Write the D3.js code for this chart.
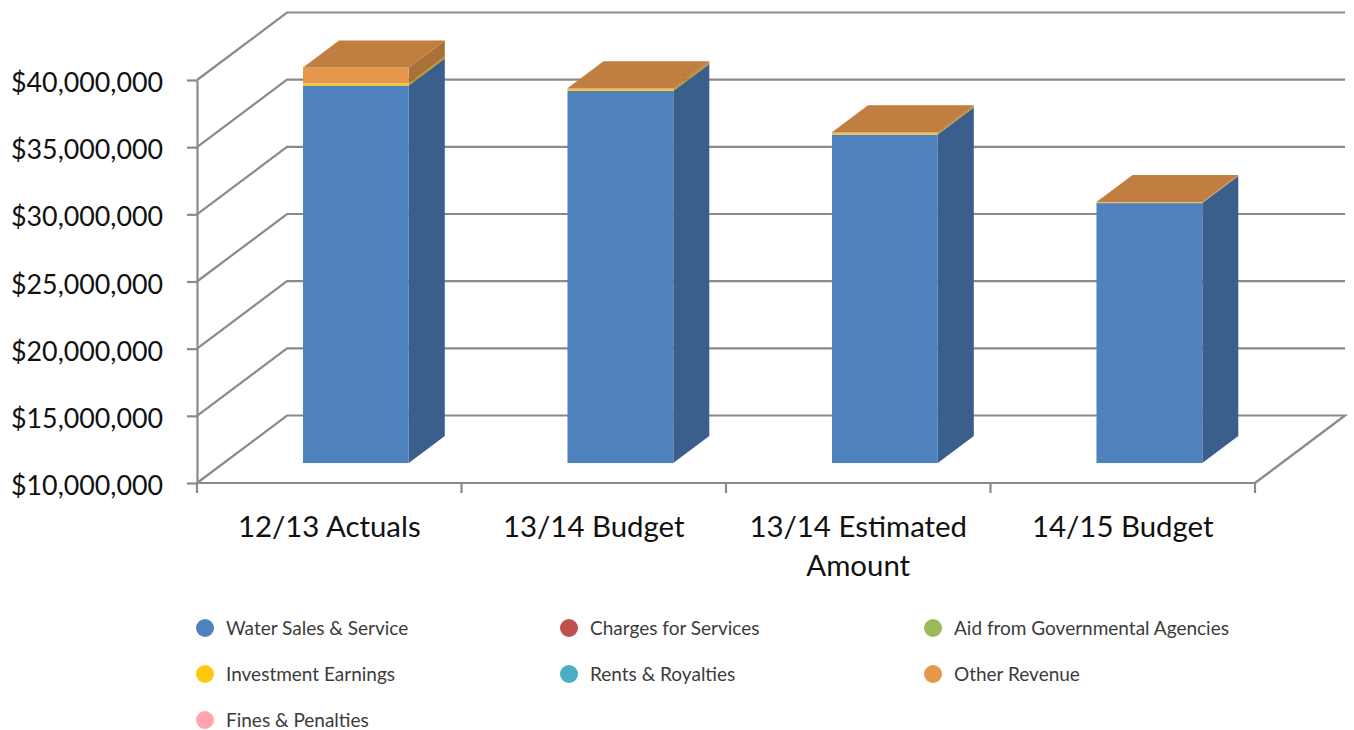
<!DOCTYPE html>
<html>
<head>
<meta charset="utf-8">
<script src="https://cdn.jsdelivr.net/npm/d3@7"></script>
<style>
	body {
		padding: 0;
		margin: 0;
		background: #FFF;
	}
	svg {
		display: block;
	}
	.grid line, .grid path {
		stroke: #8A8A8A;
		stroke-width: 2.2;
		fill: none;
	}
	.tickLabel {
		font-family: Lato, "Open Sans", sans-serif;
		font-size: 26.8px;
		fill: #111;
	}
	.xLabel {
		font-family: Lato, "Open Sans", sans-serif;
		font-size: 29.4px;
		fill: #111;
	}
	.legendLabel {
		font-family: Lato, "Open Sans", sans-serif;
		font-size: 19px;
		fill: #3C3C3C;
	}
</style>
</head>
<body>
<div id="content"></div>
<script>
// Values
var categories = ['12/13 Actuals', '13/14 Budget', '13/14 Estimated Amount', '14/15 Budget'];
var seriesNames = ['Water Sales & Service', 'Charges for Services', 'Aid from Governmental Agencies',
	'Investment Earnings', 'Rents & Royalties', 'Other Revenue', 'Fines & Penalties'];
var water = [38100000, 37700000, 34450000, 29350000];
var charges = [0, 0, 0, 0];
var aid = [0, 0, 0, 0];
var investment = [150000, 100000, 80000, 40000];
var rents = [0, 0, 0, 0];
var other = [1200000, 90000, 90000, 40000];
var fines = [0, 0, 0, 0];
var yTicks = [10000000, 15000000, 20000000, 25000000, 30000000, 35000000, 40000000];
var colors = ['#4F81BD', '#C0504D', '#9BBB59', '#FFC90E', '#4BACC6', '#E5984B', '#FFA6B0'];

var w = 1354;
var h = 730;

// Oblique projection of the chart box
var depthX = 90;
var depthY = -67.5;
var barWidth = 0.4;
var barDepthStart = 0.296;
var barDepthEnd = 0.696;

var svg = d3.select('#content')
	.append('svg')
	.attr('width', w)
	.attr('height', h);

var defs = svg.append('defs');
defs.append('filter')
	.attr('id', 'soft')
	.append('feGaussianBlur')
	.attr('stdDeviation', 0.7);

var x = d3.scaleBand().domain(categories).range([197, 1255]);
var y = d3.scaleLinear().domain([10000000, 40000000]).range([483, 80]);

function px(v, d) { return v + d * depthX; }
function py(v, d) { return y(v) + d * depthY; }

var grid = svg.append('g').attr('class', 'grid');

// Back wall lines and the diagonals on the side wall
grid.selectAll('.back')
	.data(yTicks.slice(1))
	.enter().append('path')
	.attr('d', function(d) {
		return d3.line()([
			[px(x.range()[0], 0), py(d, 0)],
			[px(x.range()[0], 1), py(d, 1)],
			[px(x.range()[1], 1), py(d, 1)]
		]);
	});

// Floor
grid.append('path')
	.attr('d', d3.line()([
		[px(x.range()[0], 0), py(yTicks[0], 0)],
		[px(x.range()[0], 1), py(yTicks[0], 1)],
		[px(x.range()[1], 1), py(yTicks[0], 1)],
		[px(x.range()[1], 0), py(yTicks[0], 0)]
	]));

// Y axis
var yAxis = svg.append('g')
	.attr('class', 'grid')
	.attr('transform', 'translate(197,0)')
	.call(d3.axisLeft(y).tickValues(yTicks).tickSize(10).tickSizeOuter(0).tickFormat(d3.format('$,')));
yAxis.selectAll('text')
	.attr('class', 'tickLabel')
	.attr('x', -186)
	.attr('y', 3)
	.attr('dy', '0.32em')
	.style('text-anchor', 'start');
yAxis.attr('font-size', null).attr('font-family', null);

// X axis, ticks sit on the category edges
var xEdges = categories.map(function(c) { return x(c); }).concat([x.range()[1]]);
grid.append('line')
	.attr('x1', x.range()[0])
	.attr('x2', x.range()[1])
	.attr('y1', y(yTicks[0]))
	.attr('y2', y(yTicks[0]));
grid.selectAll('.xTick')
	.data(xEdges)
	.enter().append('line')
	.attr('x1', function(d) { return d; })
	.attr('x2', function(d) { return d; })
	.attr('y1', y(yTicks[0]))
	.attr('y2', y(yTicks[0]) + 10);

var xLabels = svg.selectAll('.xLabel')
	.data(categories)
	.enter().append('text')
	.attr('class', 'xLabel')
	.attr('text-anchor', 'middle')
	.attr('y', 537);
xLabels.each(function(c) {
	// wrap long category names after the second word
	var words = c.split(' ');
	var lines = words.length > 2 ? [words.slice(0, 2).join(' '), words.slice(2).join(' ')] : [c];
	d3.select(this).selectAll('tspan')
		.data(lines)
		.enter().append('tspan')
		.attr('x', x(c) + x.bandwidth() / 2)
		.attr('dy', function(d, i) { return i ? 39 : 0; })
		.text(function(d) { return d; });
});

// Stacked 3D bars
var valueSeries = [water, charges, aid, investment, rents, other, fines];
var bars = svg.append('g').attr('filter', 'url(#soft)');

categories.forEach(function(c, i) {
	var band = x.bandwidth();
	var left = x(c) + band * (1 - barWidth) / 2;
	var right = left + band * barWidth;
	var base = yTicks[0];
	valueSeries.forEach(function(vals, s) {
		if (vals[i] <= 0) return;
		var bottom = base;
		// the first series starts on the axis minimum, the rest stack on it
		var top = (s === 0) ? vals[i] : base + vals[i];
		base = top;
		var col = d3.color(colors[s]);

		// side face
		bars.append('path')
			.attr('d', d3.line()([
				[px(right, barDepthStart), py(bottom, barDepthStart)],
				[px(right, barDepthEnd), py(bottom, barDepthEnd)],
				[px(right, barDepthEnd), py(top, barDepthEnd)],
				[px(right, barDepthStart), py(top, barDepthStart)]
			]) + 'Z')
			.attr('fill', col.darker(0.85));

		// front face
		bars.append('rect')
			.attr('x', px(left, barDepthStart))
			.attr('width', right - left)
			.attr('y', py(top, barDepthStart))
			.attr('height', py(bottom, barDepthStart) - py(top, barDepthStart))
			.attr('fill', col.toString());
	});

	// top face takes the colour of the last series with a value
	var topIdx = 5;
	bars.append('path')
		.attr('d', d3.line()([
			[px(left, barDepthStart), py(base, barDepthStart)],
			[px(left, barDepthEnd), py(base, barDepthEnd)],
			[px(right, barDepthEnd), py(base, barDepthEnd)],
			[px(right, barDepthStart), py(base, barDepthStart)]
		]) + 'Z')
		.attr('fill', d3.color(colors[topIdx]).darker(0.5));
});

// Legend
var legendX = [205, 569, 933];
var legendY = [628, 674, 720];
var legend = svg.selectAll('.legend')
	.data(seriesNames)
	.enter().append('g')
	.attr('transform', function(d, i) {
		return 'translate(' + legendX[i % 3] + ',' + legendY[Math.floor(i / 3)] + ')';
	});
legend.append('circle')
	.attr('r', 9)
	.attr('fill', function(d, i) { return colors[i]; });
legend.append('text')
	.attr('class', 'legendLabel')
	.attr('x', 21)
	.attr('dy', '0.35em')
	.text(function(d) { return d; });
</script>
</body>
</html>
